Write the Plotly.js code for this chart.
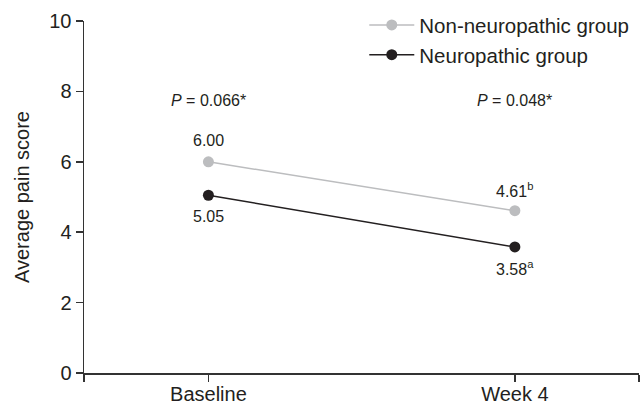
<!DOCTYPE html>
<html>
<head>
<meta charset="utf-8">
<script src="https://cdn.plot.ly/plotly-3.0.1.min.js"></script>
<style>html,body{margin:0;padding:0;background:#fff;}#chart{width:641px;height:404px;}</style>
</head>
<body>
<div id="chart"></div>
<script>
var categories = ['Baseline', 'Week 4'];
var nonNeuro = [6.00, 4.61];
var neuro = [5.05, 3.58];
var nonNeuroSup = ['', 'b'];
var neuroSup = ['', 'a'];
var pValues = ['0.066*', '0.048*'];
var pLabelY = 7.75;
var yTicks = [0, 2, 4, 6, 8, 10];

var xIdx = categories.map(function(c, i){ return i; });
function lbl(v, sup){ return v.toFixed(2) + (sup ? '<sup>' + sup + '</sup>' : ''); }
var FONT = 'Liberation Sans, Arial, Helvetica, sans-serif';
var ink = '#231f20';
var xr = [-0.406, 1.405];

var traces = [
  {x: xIdx, y: nonNeuro, name: 'Non-neuropathic group', mode: 'lines+markers',
   line: {color: '#bcbdbf', width: 1.5}, marker: {color: '#bcbdbf', size: 11}},
  {x: xIdx, y: neuro, name: 'Neuropathic group', mode: 'lines+markers',
   line: {color: ink, width: 1.5}, marker: {color: ink, size: 11}}
];

var annotations = pValues.map(function(p, i){
  return {x: xIdx[i], y: pLabelY, xref: 'x', yref: 'y', text: '<i>P</i> = ' + p,
          showarrow: false, font: {size: 16, color: ink, family: FONT}};
});
xIdx.forEach(function(xi, i){
  annotations.push({x: xi, y: nonNeuro[i], xref: 'x', yref: 'y', text: lbl(nonNeuro[i], nonNeuroSup[i]),
    showarrow: false, yshift: 21, font: {size: 16, color: ink, family: FONT}});
  annotations.push({x: xi, y: neuro[i], xref: 'x', yref: 'y', text: lbl(neuro[i], neuroSup[i]),
    showarrow: false, yshift: -21, font: {size: 16, color: ink, family: FONT}});
});

var layout = {
  width: 641, height: 404,
  margin: {l: 84, r: 2, t: 21, b: 31, autoexpand: false},
  paper_bgcolor: '#fff', plot_bgcolor: '#fff',
  font: {family: FONT, color: ink},
  showlegend: true,
  legend: {x: 0.505, xanchor: 'left', y: 1.045, yanchor: 'top', font: {size: 20.5, color: ink, family: FONT},
           bgcolor: 'rgba(0,0,0,0)', tracegroupgap: 0, itemwidth: 45},
  xaxis: {range: xr, tickvals: [xr[0], 0, 1, xr[1]], ticktext: ['', categories[0], categories[1], ''],
          showgrid: false, zeroline: false, showline: true, linecolor: '#333', linewidth: 1.5,
          ticks: 'outside', ticklen: 7, tickwidth: 1.5, tickcolor: '#333', ticklabelstandoff: -5,
          tickfont: {size: 20, color: ink, family: FONT}},
  yaxis: {range: [0, 10], tickvals: yTicks, showgrid: false, zeroline: false, showline: true,
          linecolor: '#333', linewidth: 1.5, ticks: 'outside', ticklen: 7, tickwidth: 1.5, tickcolor: '#333',
          tickfont: {size: 20, color: ink, family: FONT},
          title: {text: 'Average pain score', font: {size: 20, color: ink, family: FONT}, standoff: 14}},
  annotations: annotations
};

Plotly.newPlot('chart', traces, layout, {displayModeBar: false, staticPlot: true});
</script>
</body>
</html>
